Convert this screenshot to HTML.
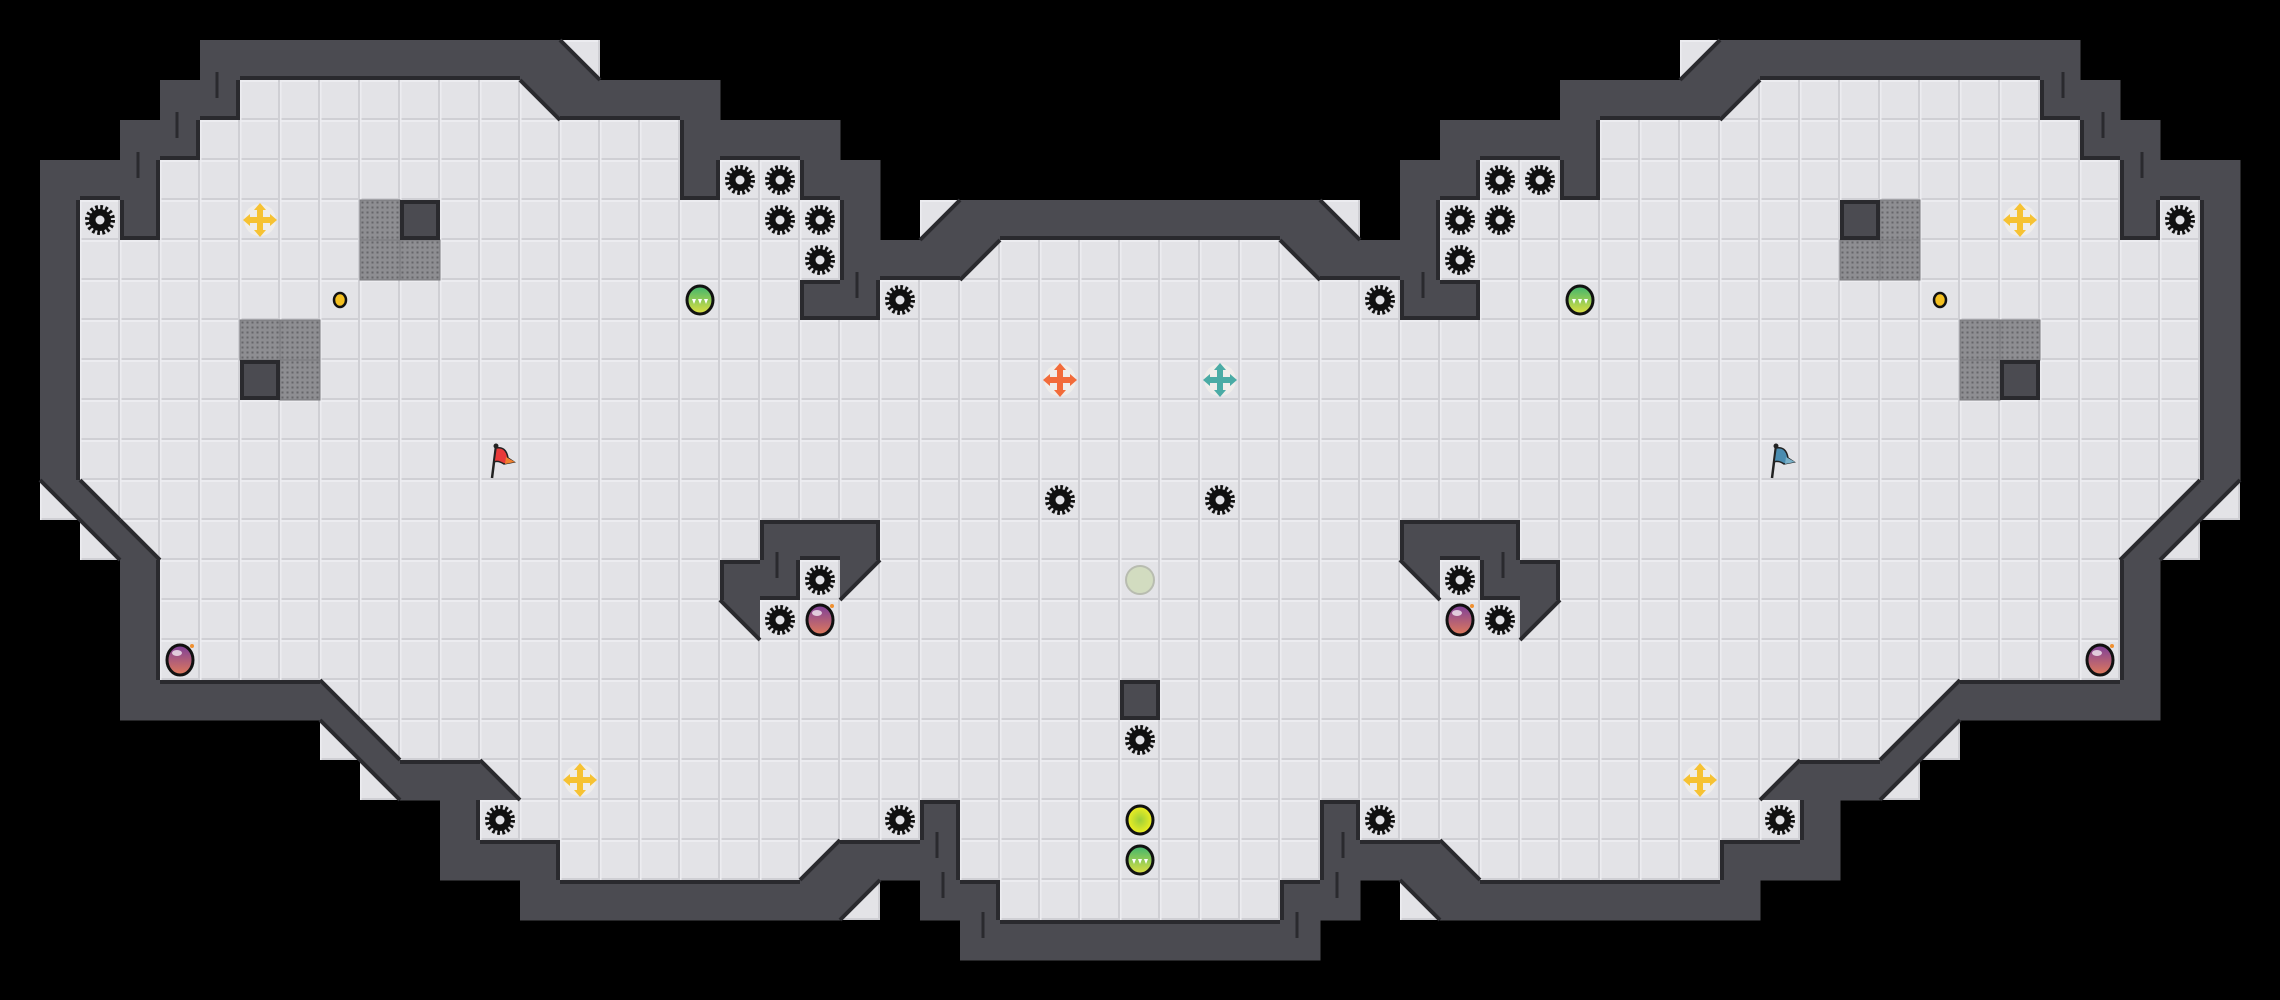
<!DOCTYPE html>
<html><head><meta charset="utf-8"><style>
html,body{margin:0;padding:0;background:#000;width:2280px;height:1000px;overflow:hidden}
svg{display:block}
</style></head><body>
<svg id="s" xmlns="http://www.w3.org/2000/svg" width="2280" height="1000" viewBox="0 0 2280 1000">
<defs>
<pattern id="fl" width="40" height="40" patternUnits="userSpaceOnUse">
<rect width="40" height="40" fill="#e3e3e7"/>
<rect x="0" y="0" width="40" height="2" fill="#ececf0"/>
<rect x="0" y="38" width="40" height="2" fill="#cfcfd4"/>
<rect x="38" y="0" width="2" height="40" fill="#cfcfd4"/>
<rect x="0" y="0" width="1.5" height="40" fill="#ececf0"/>
</pattern>
<pattern id="gr" width="5" height="5" patternUnits="userSpaceOnUse">
<rect width="5" height="5" fill="#8e8e92"/>
<rect x="1.5" y="1.5" width="2" height="2" fill="#66666a"/>
</pattern>
<linearGradient id="gG" x1="0" y1="0" x2="0" y2="1"><stop offset="0" stop-color="#3fb56e"/><stop offset="1" stop-color="#e0e040"/></linearGradient>
<linearGradient id="gB" x1="0" y1="0" x2="0" y2="1"><stop offset="0" stop-color="#7d3f9a"/><stop offset="1" stop-color="#e07a5a"/></linearGradient>
<radialGradient id="gY" cx="0.5" cy="0.5" r="0.5"><stop offset="0" stop-color="#9ccf3a"/><stop offset="1" stop-color="#f2f020"/></radialGradient>
</defs>
<g id="g"></g>
</svg>
<script>
var L=[
".............................",
".....WWWWWWWWWb..............",
"....WWFFFFFFFpWWWW...........",
"...WWFFFFFFFFFFFFWWWW........",
".WWWFFFFFFFFFFFFFWFFWW.......",
".WFWFFFFFFFFFFFFFFFFFW.dWWWWW",
".WFFFFFFFFFFFFFFFFFFFWWWqFFFF",
".WFFFFFFFFFFFFFFFFFFWWFFFFFFF",
".WFFFFFFFFFFFFFFFFFFFFFFFFFFF",
".WFFFFFFFFFFFFFFFFFFFFFFFFFFF",
".WFFFFFFFFFFFFFFFFFFFFFFFFFFF",
".WFFFFFFFFFFFFFFFFFFFFFFFFFFF",
".pbFFFFFFFFFFFFFFFFFFFFFFFFFF",
"..pbFFFFFFFFFFFFFFFWWWFFFFFFF",
"...WFFFFFFFFFFFFFFWWFqFFFFFFF",
"...WFFFFFFFFFFFFFFpFFFFFFFFFF",
"...WFFFFFFFFFFFFFFFFFFFFFFFFF",
"...WWWWWbFFFFFFFFFFFFFFFFFFFF",
"........pbFFFFFFFFFFFFFFFFFFF",
".........pWWbFFFFFFFFFFFFFFFF",
"...........WFFFFFFFFFFFWFFFFF",
"...........WWWFFFFFFdWWWFFFFF",
".............WWWWWWWWq.WWFFFF",
"........................WWWWW",
"............................."];
var mir={q:'p',p:'q',b:'d',d:'b'};
var M=[];
for(var r=0;r<25;r++){var row=[];for(var c=0;c<57;c++){var ch=c<=28?L[r][c]:L[r][56-c];if(c>28&&mir[ch])ch=mir[ch];row.push(ch);}M.push(row);}
var out=[];
var WALL="#4b4b51",OL="#2a2a2e";
var tri={q:"0,0 40,0 0,40",p:"0,0 40,0 40,40",b:"0,0 0,40 40,40",d:"40,0 40,40 0,40"};
var diag={q:[40,0,0,40],p:[0,0,40,40],b:[0,0,40,40],d:[40,0,0,40]};
var darkEdges={q:"tl",p:"tr",b:"lb",d:"rb"};
for(var r=0;r<25;r++)for(var c=0;c<57;c++){
 var t=M[r][c],x=c*40,y=r*40;
 if(t=='F')out.push('<rect x="'+x+'" y="'+y+'" width="40" height="40" fill="url(#fl)"/>');
 else if(t=='W')out.push('<rect x="'+x+'" y="'+y+'" width="40.5" height="40.5" fill="'+WALL+'"/>');
 else if(tri[t]){out.push('<rect x="'+x+'" y="'+y+'" width="40" height="40" fill="url(#fl)"/>');
  out.push('<polygon transform="translate('+x+','+y+')" points="'+tri[t]+'" fill="'+WALL+'"/>');}
}
function lightEdge(r,c,side){
 if(r<0||r>=25||c<0||c>=57)return false;var t=M[r][c];
 if(t=='F')return true;if(darkEdges[t])return darkEdges[t].indexOf(side)<0;return false;}
for(var r=0;r<25;r++)for(var c=0;c<57;c++){
 var t=M[r][c],x=c*40,y=r*40;
 if(t=='W'){
  if(lightEdge(r-1,c,'b'))out.push('<rect x="'+x+'" y="'+y+'" width="40" height="4" fill="'+OL+'"/>');
  if(lightEdge(r+1,c,'t'))out.push('<rect x="'+x+'" y="'+(y+36)+'" width="40" height="4" fill="'+OL+'"/>');
  if(lightEdge(r,c-1,'r'))out.push('<rect x="'+x+'" y="'+y+'" width="4" height="40" fill="'+OL+'"/>');
  if(lightEdge(r,c+1,'l'))out.push('<rect x="'+(x+36)+'" y="'+y+'" width="4" height="40" fill="'+OL+'"/>');
 } else if(diag[t]){var d=diag[t];
  out.push('<line x1="'+(x+d[0])+'" y1="'+(y+d[1])+'" x2="'+(x+d[2])+'" y2="'+(y+d[3])+'" stroke="'+OL+'" stroke-width="4"/>');}
}
var marks=[[217,72],[177,112],[138,152],[857,272],[777,552],[937,832],[1337,872],[1297,912]];
marks.forEach(function(m){out.push('<rect x="'+(m[0]-1.5)+'" y="'+m[1]+'" width="3" height="26" fill="'+OL+'"/>');out.push('<rect x="'+(2280-m[0]-1.5)+'" y="'+m[1]+'" width="3" height="26" fill="'+OL+'"/>');});
function C(c,r){return [c*40+20,r*40+20];}
function gear(c,r){var p=C(c,r);out.push('<circle cx="'+p[0]+'" cy="'+p[1]+'" r="12.5" fill="none" stroke="#111" stroke-width="5" stroke-dasharray="2.6 2.3"/><circle cx="'+p[0]+'" cy="'+p[1]+'" r="11" fill="#111"/><circle cx="'+p[0]+'" cy="'+p[1]+'" r="4.5" fill="#e3e3e7"/>');}
function plus(c,r,col){var p=C(c,r),x=p[0],y=p[1];
 out.push('<circle cx="'+x+'" cy="'+y+'" r="16" fill="#efedea"/>'+
 '<rect x="'+(x-13)+'" y="'+(y-3)+'" width="26" height="6" fill="'+col+'"/><rect x="'+(x-3)+'" y="'+(y-13)+'" width="6" height="26" fill="'+col+'"/>'+
 '<polygon points="'+(x-17)+','+y+' '+(x-10)+','+(y-6)+' '+(x-10)+','+(y+6)+'" fill="'+col+'"/>'+
 '<polygon points="'+(x+17)+','+y+' '+(x+10)+','+(y-6)+' '+(x+10)+','+(y+6)+'" fill="'+col+'"/>'+
 '<polygon points="'+x+','+(y-17)+' '+(x-6)+','+(y-10)+' '+(x+6)+','+(y-10)+'" fill="'+col+'"/>'+
 '<polygon points="'+x+','+(y+17)+' '+(x-6)+','+(y+10)+' '+(x+6)+','+(y+10)+'" fill="'+col+'"/>');}
function grate(c,r){out.push('<rect x="'+c*40+'" y="'+r*40+'" width="40" height="40" fill="url(#gr)" stroke="#77777b" stroke-width="1"/>');}
function block(c,r){out.push('<rect x="'+(c*40+2)+'" y="'+(r*40+2)+'" width="36" height="36" fill="'+WALL+'" stroke="'+OL+'" stroke-width="4"/>');}
function coin(c,r){var p=C(c,r);out.push('<ellipse cx="'+p[0]+'" cy="'+p[1]+'" rx="6" ry="7" fill="#f4c020" stroke="#111" stroke-width="2.5"/>');}
function orb(c,r){var p=C(c,r),x=p[0],y=p[1];out.push('<ellipse cx="'+x+'" cy="'+y+'" rx="13" ry="14" fill="url(#gG)" stroke="#111" stroke-width="3"/>'+
 '<polygon points="'+(x-8)+','+(y-1)+' '+(x-4)+','+(y-1)+' '+(x-6)+','+(y+4)+'" fill="#fff"/><polygon points="'+(x-2)+','+(y-1)+' '+(x+2)+','+(y-1)+' '+x+','+(y+4)+'" fill="#fff"/><polygon points="'+(x+4)+','+(y-1)+' '+(x+8)+','+(y-1)+' '+(x+6)+','+(y+4)+'" fill="#fff"/>');}
function bomb(c,r){var p=C(c,r),x=p[0],y=p[1];out.push('<ellipse cx="'+x+'" cy="'+y+'" rx="13" ry="15" fill="url(#gB)" stroke="#111" stroke-width="3"/><ellipse cx="'+(x-3)+'" cy="'+(y-7)+'" rx="5" ry="3" fill="#fff" opacity="0.7"/><circle cx="'+(x+12)+'" cy="'+(y-14)+'" r="2" fill="#f09030"/>');}
function flag(c,r,col,col2){var p=C(c,r),x=p[0],y=p[1];out.push('<line x1="'+(x-8)+'" y1="'+(y+18)+'" x2="'+(x-4)+'" y2="'+(y-14)+'" stroke="#222" stroke-width="2.5"/><circle cx="'+(x-4)+'" cy="'+(y-14)+'" r="2.5" fill="#222"/>'+
 '<path d="M'+(x-4)+','+(y-12)+' Q'+(x+6)+','+(y-14)+' '+(x+8)+','+(y-2)+' L'+(x+14)+','+(y+2)+' L'+(x+4)+','+(y+4)+' Q'+(x-2)+','+(y)+' '+(x-6)+','+(y+2)+'Z" fill="'+col+'" stroke="#222" stroke-width="1.5"/><path d="M'+(x+6)+','+(y-3)+' L'+(x+15)+','+(y+2)+' L'+(x+5)+','+(y+4)+'Z" fill="'+col2+'"/>');}
var gl=[[2,5],[18,4],[19,4],[19,5],[20,5],[20,6],[22,7],[20,14],[19,15],[12,20],[22,20],[26,12]];
gl.forEach(function(g){gear(g[0],g[1]);gear(56-g[0],g[1]);});
gear(28,18);
[[6,5],[14,19]].forEach(function(g){plus(g[0],g[1],"#f6c232");plus(56-g[0],g[1],"#f6c232");});
plus(26,9,"#f26b3a");plus(30,9,"#4aaba5");
[[9,5],[9,6],[10,6],[6,8],[7,8],[7,9]].forEach(function(g){grate(g[0],g[1]);grate(56-g[0],g[1]);});
[[10,5],[6,9]].forEach(function(g){block(g[0],g[1]);block(56-g[0],g[1]);});
block(28,17);
coin(8,7);coin(48,7);
orb(17,7);orb(39,7);orb(28,21);
[[4,16],[20,15]].forEach(function(g){bomb(g[0],g[1]);bomb(56-g[0],g[1]);});
flag(12,11,"#e83a3a","#f08030");flag(44,11,"#4a8cb0","#7ab0c8");
var p=C(28,14);out.push('<circle cx="'+p[0]+'" cy="'+p[1]+'" r="14" fill="#d2dcc0" stroke="#b8bcb0" stroke-width="2"/>');
p=C(28,20);out.push('<ellipse cx="'+p[0]+'" cy="'+p[1]+'" rx="13" ry="14" fill="url(#gY)" stroke="#111" stroke-width="3"/>');
document.getElementById('g').innerHTML=out.join('');
</script>
</body></html>
